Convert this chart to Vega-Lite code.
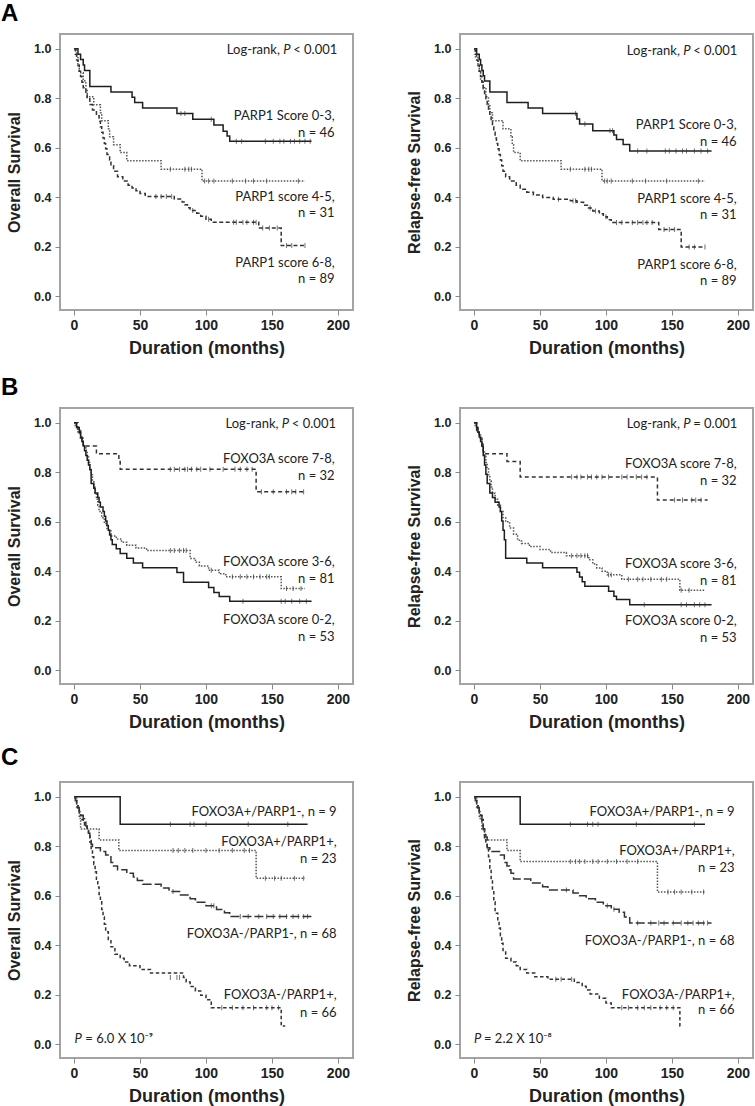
{
"$schema": "https://vega.github.io/schema/vega-lite/v6.json",
"background": "white",
"padding": {"left": 0, "top": 1, "right": 0, "bottom": 0},
"config": {
  "view": {"stroke": "#a3a3a3", "strokeWidth": 2},
  "axis": {"labelFont": "Liberation Sans", "labelFontWeight": "bold", "labelColor": "#222", "titleFont": "Liberation Sans", "titleFontWeight": "bold", "titleColor": "#222", "tickColor": "#888", "tickSize": 5, "domain": false, "grid": false},
  "axisX": {"labelFontSize": 14, "titleFontSize": 18, "labelPadding": 3, "titlePadding": 7},
  "axisY": {"labelFontSize": 12.5, "titleFontSize": 16, "format": ".1f", "labelPadding": 4, "titlePadding": 11},
  "title": {"font": "Liberation Sans", "fontSize": 24, "fontWeight": "bold", "color": "#000", "anchor": "start", "frame": "group", "baseline": "alphabetic", "dx": -59, "offset": 8}
},
"datasets": {
"curves": [
{"p":"A1","g":"P03","t":0,"s":1},{"p":"A1","g":"P03","t":3,"s":0.978},{"p":"A1","g":"P03","t":5,"s":0.957},{"p":"A1","g":"P03","t":7,"s":0.935},{"p":"A1","g":"P03","t":8,"s":0.913},{"p":"A1","g":"P03","t":12,"s":0.848},{"p":"A1","g":"P03","t":28,"s":0.826},{"p":"A1","g":"P03","t":44,"s":0.804},{"p":"A1","g":"P03","t":46,"s":0.783},{"p":"A1","g":"P03","t":52,"s":0.761},{"p":"A1","g":"P03","t":78,"s":0.739},{"p":"A1","g":"P03","t":90,"s":0.716},{"p":"A1","g":"P03","t":106,"s":0.692},{"p":"A1","g":"P03","t":113,"s":0.667},{"p":"A1","g":"P03","t":116,"s":0.648},{"p":"A1","g":"P03","t":118,"s":0.627},{"p":"A1","g":"P03","t":180,"s":0.627},
{"p":"A1","g":"P45","t":0,"s":1},{"p":"A1","g":"P45","t":2,"s":0.968},{"p":"A1","g":"P45","t":3,"s":0.935},{"p":"A1","g":"P45","t":4,"s":0.903},{"p":"A1","g":"P45","t":7,"s":0.871},{"p":"A1","g":"P45","t":9,"s":0.839},{"p":"A1","g":"P45","t":10,"s":0.806},{"p":"A1","g":"P45","t":15,"s":0.774},{"p":"A1","g":"P45","t":20,"s":0.742},{"p":"A1","g":"P45","t":21,"s":0.71},{"p":"A1","g":"P45","t":26,"s":0.677},{"p":"A1","g":"P45","t":27,"s":0.645},{"p":"A1","g":"P45","t":30,"s":0.613},{"p":"A1","g":"P45","t":35,"s":0.581},{"p":"A1","g":"P45","t":40,"s":0.548},{"p":"A1","g":"P45","t":66,"s":0.514},{"p":"A1","g":"P45","t":97,"s":0.466},{"p":"A1","g":"P45","t":175,"s":0.466},
{"p":"A1","g":"P68","t":0,"s":1},{"p":"A1","g":"P68","t":1,"s":0.978},{"p":"A1","g":"P68","t":2,"s":0.955},{"p":"A1","g":"P68","t":3,"s":0.933},{"p":"A1","g":"P68","t":4,"s":0.91},{"p":"A1","g":"P68","t":5,"s":0.888},{"p":"A1","g":"P68","t":6,"s":0.865},{"p":"A1","g":"P68","t":7,"s":0.843},{"p":"A1","g":"P68","t":9,"s":0.82},{"p":"A1","g":"P68","t":10,"s":0.798},{"p":"A1","g":"P68","t":12,"s":0.775},{"p":"A1","g":"P68","t":14,"s":0.753},{"p":"A1","g":"P68","t":17,"s":0.73},{"p":"A1","g":"P68","t":19,"s":0.708},{"p":"A1","g":"P68","t":20,"s":0.685},{"p":"A1","g":"P68","t":21,"s":0.663},{"p":"A1","g":"P68","t":22,"s":0.64},{"p":"A1","g":"P68","t":23,"s":0.618},{"p":"A1","g":"P68","t":24,"s":0.596},{"p":"A1","g":"P68","t":25,"s":0.573},{"p":"A1","g":"P68","t":27,"s":0.551},{"p":"A1","g":"P68","t":28,"s":0.528},{"p":"A1","g":"P68","t":30,"s":0.506},{"p":"A1","g":"P68","t":33,"s":0.483},{"p":"A1","g":"P68","t":37,"s":0.466},{"p":"A1","g":"P68","t":41,"s":0.449},{"p":"A1","g":"P68","t":44,"s":0.438},{"p":"A1","g":"P68","t":47,"s":0.427},{"p":"A1","g":"P68","t":50,"s":0.416},{"p":"A1","g":"P68","t":54,"s":0.404},{"p":"A1","g":"P68","t":76,"s":0.393},{"p":"A1","g":"P68","t":82,"s":0.381},{"p":"A1","g":"P68","t":84,"s":0.37},{"p":"A1","g":"P68","t":86,"s":0.358},{"p":"A1","g":"P68","t":88,"s":0.347},{"p":"A1","g":"P68","t":93,"s":0.336},{"p":"A1","g":"P68","t":96,"s":0.324},{"p":"A1","g":"P68","t":100,"s":0.312},{"p":"A1","g":"P68","t":104,"s":0.3},{"p":"A1","g":"P68","t":140,"s":0.276},{"p":"A1","g":"P68","t":157,"s":0.206},{"p":"A1","g":"P68","t":175,"s":0.206},
{"p":"A2","g":"P03","t":0,"s":1},{"p":"A2","g":"P03","t":2,"s":0.978},{"p":"A2","g":"P03","t":4,"s":0.957},{"p":"A2","g":"P03","t":5,"s":0.935},{"p":"A2","g":"P03","t":6,"s":0.913},{"p":"A2","g":"P03","t":7,"s":0.891},{"p":"A2","g":"P03","t":8,"s":0.87},{"p":"A2","g":"P03","t":12,"s":0.826},{"p":"A2","g":"P03","t":25,"s":0.783},{"p":"A2","g":"P03","t":41,"s":0.761},{"p":"A2","g":"P03","t":52,"s":0.739},{"p":"A2","g":"P03","t":78,"s":0.717},{"p":"A2","g":"P03","t":80,"s":0.696},{"p":"A2","g":"P03","t":90,"s":0.669},{"p":"A2","g":"P03","t":106,"s":0.652},{"p":"A2","g":"P03","t":108,"s":0.634},{"p":"A2","g":"P03","t":113,"s":0.614},{"p":"A2","g":"P03","t":118,"s":0.587},{"p":"A2","g":"P03","t":180,"s":0.587},
{"p":"A2","g":"P45","t":0,"s":1},{"p":"A2","g":"P45","t":1,"s":0.968},{"p":"A2","g":"P45","t":3,"s":0.935},{"p":"A2","g":"P45","t":4,"s":0.903},{"p":"A2","g":"P45","t":5,"s":0.871},{"p":"A2","g":"P45","t":7,"s":0.839},{"p":"A2","g":"P45","t":9,"s":0.806},{"p":"A2","g":"P45","t":11,"s":0.774},{"p":"A2","g":"P45","t":12,"s":0.742},{"p":"A2","g":"P45","t":14,"s":0.71},{"p":"A2","g":"P45","t":22,"s":0.677},{"p":"A2","g":"P45","t":28,"s":0.645},{"p":"A2","g":"P45","t":29,"s":0.613},{"p":"A2","g":"P45","t":30,"s":0.581},{"p":"A2","g":"P45","t":35,"s":0.548},{"p":"A2","g":"P45","t":66,"s":0.514},{"p":"A2","g":"P45","t":97,"s":0.466},{"p":"A2","g":"P45","t":175,"s":0.466},
{"p":"A2","g":"P68","t":0,"s":1},{"p":"A2","g":"P68","t":1,"s":0.978},{"p":"A2","g":"P68","t":2,"s":0.955},{"p":"A2","g":"P68","t":3,"s":0.933},{"p":"A2","g":"P68","t":4,"s":0.91},{"p":"A2","g":"P68","t":5,"s":0.888},{"p":"A2","g":"P68","t":6,"s":0.865},{"p":"A2","g":"P68","t":7,"s":0.843},{"p":"A2","g":"P68","t":8,"s":0.82},{"p":"A2","g":"P68","t":9,"s":0.798},{"p":"A2","g":"P68","t":10,"s":0.775},{"p":"A2","g":"P68","t":11,"s":0.753},{"p":"A2","g":"P68","t":12,"s":0.73},{"p":"A2","g":"P68","t":13,"s":0.708},{"p":"A2","g":"P68","t":14,"s":0.685},{"p":"A2","g":"P68","t":15,"s":0.663},{"p":"A2","g":"P68","t":16,"s":0.64},{"p":"A2","g":"P68","t":17,"s":0.618},{"p":"A2","g":"P68","t":18,"s":0.596},{"p":"A2","g":"P68","t":19,"s":0.573},{"p":"A2","g":"P68","t":20,"s":0.551},{"p":"A2","g":"P68","t":21,"s":0.528},{"p":"A2","g":"P68","t":22,"s":0.506},{"p":"A2","g":"P68","t":24,"s":0.483},{"p":"A2","g":"P68","t":27,"s":0.466},{"p":"A2","g":"P68","t":32,"s":0.449},{"p":"A2","g":"P68","t":35,"s":0.433},{"p":"A2","g":"P68","t":40,"s":0.421},{"p":"A2","g":"P68","t":45,"s":0.41},{"p":"A2","g":"P68","t":52,"s":0.399},{"p":"A2","g":"P68","t":60,"s":0.392},{"p":"A2","g":"P68","t":73,"s":0.386},{"p":"A2","g":"P68","t":78,"s":0.38},{"p":"A2","g":"P68","t":83,"s":0.368},{"p":"A2","g":"P68","t":86,"s":0.357},{"p":"A2","g":"P68","t":90,"s":0.345},{"p":"A2","g":"P68","t":95,"s":0.334},{"p":"A2","g":"P68","t":98,"s":0.322},{"p":"A2","g":"P68","t":101,"s":0.31},{"p":"A2","g":"P68","t":104,"s":0.298},{"p":"A2","g":"P68","t":140,"s":0.27},{"p":"A2","g":"P68","t":157,"s":0.2},{"p":"A2","g":"P68","t":175,"s":0.2},
{"p":"B1","g":"F78","t":0,"s":1},{"p":"B1","g":"F78","t":3,"s":0.969},{"p":"B1","g":"F78","t":5,"s":0.938},{"p":"B1","g":"F78","t":7,"s":0.906},{"p":"B1","g":"F78","t":17,"s":0.875},{"p":"B1","g":"F78","t":34,"s":0.844},{"p":"B1","g":"F78","t":35,"s":0.813},{"p":"B1","g":"F78","t":138,"s":0.722},{"p":"B1","g":"F78","t":176,"s":0.722},
{"p":"B1","g":"F36","t":0,"s":1},{"p":"B1","g":"F36","t":1,"s":0.988},{"p":"B1","g":"F36","t":2,"s":0.975},{"p":"B1","g":"F36","t":3,"s":0.963},{"p":"B1","g":"F36","t":4,"s":0.951},{"p":"B1","g":"F36","t":5,"s":0.938},{"p":"B1","g":"F36","t":6,"s":0.926},{"p":"B1","g":"F36","t":7,"s":0.914},{"p":"B1","g":"F36","t":8,"s":0.901},{"p":"B1","g":"F36","t":9,"s":0.889},{"p":"B1","g":"F36","t":10,"s":0.864},{"p":"B1","g":"F36","t":11,"s":0.84},{"p":"B1","g":"F36","t":12,"s":0.815},{"p":"B1","g":"F36","t":13,"s":0.79},{"p":"B1","g":"F36","t":14,"s":0.765},{"p":"B1","g":"F36","t":15,"s":0.74},{"p":"B1","g":"F36","t":16,"s":0.716},{"p":"B1","g":"F36","t":17,"s":0.691},{"p":"B1","g":"F36","t":18,"s":0.667},{"p":"B1","g":"F36","t":19,"s":0.642},{"p":"B1","g":"F36","t":21,"s":0.617},{"p":"B1","g":"F36","t":23,"s":0.593},{"p":"B1","g":"F36","t":25,"s":0.568},{"p":"B1","g":"F36","t":28,"s":0.543},{"p":"B1","g":"F36","t":32,"s":0.531},{"p":"B1","g":"F36","t":36,"s":0.518},{"p":"B1","g":"F36","t":40,"s":0.506},{"p":"B1","g":"F36","t":47,"s":0.494},{"p":"B1","g":"F36","t":55,"s":0.484},{"p":"B1","g":"F36","t":88,"s":0.452},{"p":"B1","g":"F36","t":92,"s":0.437},{"p":"B1","g":"F36","t":95,"s":0.422},{"p":"B1","g":"F36","t":102,"s":0.405},{"p":"B1","g":"F36","t":110,"s":0.39},{"p":"B1","g":"F36","t":115,"s":0.378},{"p":"B1","g":"F36","t":157,"s":0.331},{"p":"B1","g":"F36","t":175,"s":0.331},
{"p":"B1","g":"F02","t":0,"s":1},{"p":"B1","g":"F02","t":2,"s":0.981},{"p":"B1","g":"F02","t":4,"s":0.962},{"p":"B1","g":"F02","t":5,"s":0.943},{"p":"B1","g":"F02","t":6,"s":0.925},{"p":"B1","g":"F02","t":7,"s":0.906},{"p":"B1","g":"F02","t":8,"s":0.887},{"p":"B1","g":"F02","t":9,"s":0.868},{"p":"B1","g":"F02","t":10,"s":0.849},{"p":"B1","g":"F02","t":11,"s":0.83},{"p":"B1","g":"F02","t":12,"s":0.811},{"p":"B1","g":"F02","t":13,"s":0.755},{"p":"B1","g":"F02","t":15,"s":0.736},{"p":"B1","g":"F02","t":16,"s":0.717},{"p":"B1","g":"F02","t":18,"s":0.698},{"p":"B1","g":"F02","t":19,"s":0.679},{"p":"B1","g":"F02","t":20,"s":0.66},{"p":"B1","g":"F02","t":22,"s":0.642},{"p":"B1","g":"F02","t":23,"s":0.623},{"p":"B1","g":"F02","t":24,"s":0.604},{"p":"B1","g":"F02","t":25,"s":0.585},{"p":"B1","g":"F02","t":26,"s":0.566},{"p":"B1","g":"F02","t":27,"s":0.547},{"p":"B1","g":"F02","t":28,"s":0.528},{"p":"B1","g":"F02","t":29,"s":0.509},{"p":"B1","g":"F02","t":32,"s":0.491},{"p":"B1","g":"F02","t":35,"s":0.472},{"p":"B1","g":"F02","t":40,"s":0.453},{"p":"B1","g":"F02","t":45,"s":0.434},{"p":"B1","g":"F02","t":52,"s":0.415},{"p":"B1","g":"F02","t":78,"s":0.395},{"p":"B1","g":"F02","t":83,"s":0.356},{"p":"B1","g":"F02","t":102,"s":0.335},{"p":"B1","g":"F02","t":106,"s":0.315},{"p":"B1","g":"F02","t":110,"s":0.298},{"p":"B1","g":"F02","t":118,"s":0.279},{"p":"B1","g":"F02","t":180,"s":0.279},
{"p":"B2","g":"F78","t":0,"s":1},{"p":"B2","g":"F78","t":2,"s":0.969},{"p":"B2","g":"F78","t":4,"s":0.938},{"p":"B2","g":"F78","t":6,"s":0.906},{"p":"B2","g":"F78","t":7,"s":0.875},{"p":"B2","g":"F78","t":25,"s":0.844},{"p":"B2","g":"F78","t":35,"s":0.781},{"p":"B2","g":"F78","t":139,"s":0.688},{"p":"B2","g":"F78","t":177,"s":0.688},
{"p":"B2","g":"F36","t":0,"s":1},{"p":"B2","g":"F36","t":1,"s":0.988},{"p":"B2","g":"F36","t":2,"s":0.975},{"p":"B2","g":"F36","t":3,"s":0.963},{"p":"B2","g":"F36","t":4,"s":0.951},{"p":"B2","g":"F36","t":5,"s":0.938},{"p":"B2","g":"F36","t":6,"s":0.914},{"p":"B2","g":"F36","t":7,"s":0.889},{"p":"B2","g":"F36","t":8,"s":0.864},{"p":"B2","g":"F36","t":9,"s":0.84},{"p":"B2","g":"F36","t":10,"s":0.815},{"p":"B2","g":"F36","t":11,"s":0.79},{"p":"B2","g":"F36","t":12,"s":0.765},{"p":"B2","g":"F36","t":13,"s":0.741},{"p":"B2","g":"F36","t":14,"s":0.716},{"p":"B2","g":"F36","t":16,"s":0.691},{"p":"B2","g":"F36","t":18,"s":0.667},{"p":"B2","g":"F36","t":20,"s":0.642},{"p":"B2","g":"F36","t":22,"s":0.617},{"p":"B2","g":"F36","t":24,"s":0.6},{"p":"B2","g":"F36","t":27,"s":0.575},{"p":"B2","g":"F36","t":30,"s":0.55},{"p":"B2","g":"F36","t":33,"s":0.526},{"p":"B2","g":"F36","t":36,"s":0.513},{"p":"B2","g":"F36","t":42,"s":0.5},{"p":"B2","g":"F36","t":50,"s":0.488},{"p":"B2","g":"F36","t":58,"s":0.476},{"p":"B2","g":"F36","t":70,"s":0.463},{"p":"B2","g":"F36","t":87,"s":0.447},{"p":"B2","g":"F36","t":90,"s":0.43},{"p":"B2","g":"F36","t":93,"s":0.414},{"p":"B2","g":"F36","t":97,"s":0.4},{"p":"B2","g":"F36","t":101,"s":0.386},{"p":"B2","g":"F36","t":112,"s":0.368},{"p":"B2","g":"F36","t":156,"s":0.324},{"p":"B2","g":"F36","t":175,"s":0.324},
{"p":"B2","g":"F02","t":0,"s":1},{"p":"B2","g":"F02","t":2,"s":0.981},{"p":"B2","g":"F02","t":3,"s":0.962},{"p":"B2","g":"F02","t":4,"s":0.943},{"p":"B2","g":"F02","t":5,"s":0.925},{"p":"B2","g":"F02","t":6,"s":0.906},{"p":"B2","g":"F02","t":7,"s":0.868},{"p":"B2","g":"F02","t":8,"s":0.83},{"p":"B2","g":"F02","t":9,"s":0.792},{"p":"B2","g":"F02","t":10,"s":0.755},{"p":"B2","g":"F02","t":12,"s":0.717},{"p":"B2","g":"F02","t":14,"s":0.698},{"p":"B2","g":"F02","t":16,"s":0.679},{"p":"B2","g":"F02","t":19,"s":0.66},{"p":"B2","g":"F02","t":20,"s":0.642},{"p":"B2","g":"F02","t":21,"s":0.604},{"p":"B2","g":"F02","t":22,"s":0.566},{"p":"B2","g":"F02","t":23,"s":0.528},{"p":"B2","g":"F02","t":24,"s":0.453},{"p":"B2","g":"F02","t":40,"s":0.434},{"p":"B2","g":"F02","t":52,"s":0.415},{"p":"B2","g":"F02","t":78,"s":0.396},{"p":"B2","g":"F02","t":80,"s":0.377},{"p":"B2","g":"F02","t":82,"s":0.358},{"p":"B2","g":"F02","t":84,"s":0.34},{"p":"B2","g":"F02","t":102,"s":0.32},{"p":"B2","g":"F02","t":106,"s":0.3},{"p":"B2","g":"F02","t":108,"s":0.286},{"p":"B2","g":"F02","t":118,"s":0.265},{"p":"B2","g":"F02","t":180,"s":0.265},
{"p":"C1","g":"FpPm","t":0,"s":1},{"p":"C1","g":"FpPm","t":35,"s":0.889},{"p":"C1","g":"FpPm","t":177,"s":0.889},
{"p":"C1","g":"FpPp","t":0,"s":1},{"p":"C1","g":"FpPp","t":2,"s":0.957},{"p":"C1","g":"FpPp","t":4,"s":0.913},{"p":"C1","g":"FpPp","t":5,"s":0.87},{"p":"C1","g":"FpPp","t":19,"s":0.826},{"p":"C1","g":"FpPp","t":34,"s":0.783},{"p":"C1","g":"FpPp","t":138,"s":0.671},{"p":"C1","g":"FpPp","t":175,"s":0.671},
{"p":"C1","g":"FmPm","t":0,"s":1},{"p":"C1","g":"FmPm","t":1,"s":0.985},{"p":"C1","g":"FmPm","t":2,"s":0.971},{"p":"C1","g":"FmPm","t":3,"s":0.956},{"p":"C1","g":"FmPm","t":4,"s":0.941},{"p":"C1","g":"FmPm","t":5,"s":0.926},{"p":"C1","g":"FmPm","t":7,"s":0.912},{"p":"C1","g":"FmPm","t":8,"s":0.897},{"p":"C1","g":"FmPm","t":9,"s":0.882},{"p":"C1","g":"FmPm","t":10,"s":0.868},{"p":"C1","g":"FmPm","t":11,"s":0.853},{"p":"C1","g":"FmPm","t":12,"s":0.838},{"p":"C1","g":"FmPm","t":13,"s":0.809},{"p":"C1","g":"FmPm","t":14,"s":0.794},{"p":"C1","g":"FmPm","t":20,"s":0.779},{"p":"C1","g":"FmPm","t":24,"s":0.765},{"p":"C1","g":"FmPm","t":28,"s":0.735},{"p":"C1","g":"FmPm","t":30,"s":0.721},{"p":"C1","g":"FmPm","t":33,"s":0.706},{"p":"C1","g":"FmPm","t":40,"s":0.691},{"p":"C1","g":"FmPm","t":45,"s":0.676},{"p":"C1","g":"FmPm","t":48,"s":0.662},{"p":"C1","g":"FmPm","t":52,"s":0.647},{"p":"C1","g":"FmPm","t":66,"s":0.632},{"p":"C1","g":"FmPm","t":72,"s":0.618},{"p":"C1","g":"FmPm","t":80,"s":0.603},{"p":"C1","g":"FmPm","t":88,"s":0.588},{"p":"C1","g":"FmPm","t":92,"s":0.574},{"p":"C1","g":"FmPm","t":100,"s":0.56},{"p":"C1","g":"FmPm","t":108,"s":0.545},{"p":"C1","g":"FmPm","t":114,"s":0.532},{"p":"C1","g":"FmPm","t":118,"s":0.517},{"p":"C1","g":"FmPm","t":181,"s":0.517},
{"p":"C1","g":"FmPp","t":0,"s":1},{"p":"C1","g":"FmPp","t":1,"s":0.985},{"p":"C1","g":"FmPp","t":2,"s":0.97},{"p":"C1","g":"FmPp","t":3,"s":0.955},{"p":"C1","g":"FmPp","t":4,"s":0.939},{"p":"C1","g":"FmPp","t":5,"s":0.924},{"p":"C1","g":"FmPp","t":6,"s":0.909},{"p":"C1","g":"FmPp","t":7,"s":0.894},{"p":"C1","g":"FmPp","t":8,"s":0.879},{"p":"C1","g":"FmPp","t":10,"s":0.864},{"p":"C1","g":"FmPp","t":11,"s":0.848},{"p":"C1","g":"FmPp","t":12,"s":0.818},{"p":"C1","g":"FmPp","t":13,"s":0.788},{"p":"C1","g":"FmPp","t":14,"s":0.758},{"p":"C1","g":"FmPp","t":15,"s":0.727},{"p":"C1","g":"FmPp","t":16,"s":0.697},{"p":"C1","g":"FmPp","t":17,"s":0.667},{"p":"C1","g":"FmPp","t":18,"s":0.636},{"p":"C1","g":"FmPp","t":19,"s":0.606},{"p":"C1","g":"FmPp","t":20,"s":0.576},{"p":"C1","g":"FmPp","t":21,"s":0.545},{"p":"C1","g":"FmPp","t":22,"s":0.515},{"p":"C1","g":"FmPp","t":23,"s":0.485},{"p":"C1","g":"FmPp","t":24,"s":0.455},{"p":"C1","g":"FmPp","t":26,"s":0.424},{"p":"C1","g":"FmPp","t":28,"s":0.394},{"p":"C1","g":"FmPp","t":31,"s":0.364},{"p":"C1","g":"FmPp","t":35,"s":0.348},{"p":"C1","g":"FmPp","t":38,"s":0.333},{"p":"C1","g":"FmPp","t":42,"s":0.318},{"p":"C1","g":"FmPp","t":50,"s":0.303},{"p":"C1","g":"FmPp","t":58,"s":0.288},{"p":"C1","g":"FmPp","t":83,"s":0.27},{"p":"C1","g":"FmPp","t":85,"s":0.252},{"p":"C1","g":"FmPp","t":88,"s":0.234},{"p":"C1","g":"FmPp","t":92,"s":0.216},{"p":"C1","g":"FmPp","t":96,"s":0.198},{"p":"C1","g":"FmPp","t":100,"s":0.18},{"p":"C1","g":"FmPp","t":104,"s":0.148},{"p":"C1","g":"FmPp","t":157,"s":0.074},{"p":"C1","g":"FmPp","t":160,"s":0.074},
{"p":"C2","g":"FpPm","t":0,"s":1},{"p":"C2","g":"FpPm","t":35,"s":0.889},{"p":"C2","g":"FpPm","t":175,"s":0.889},
{"p":"C2","g":"FpPp","t":0,"s":1},{"p":"C2","g":"FpPp","t":2,"s":0.957},{"p":"C2","g":"FpPp","t":4,"s":0.913},{"p":"C2","g":"FpPp","t":6,"s":0.87},{"p":"C2","g":"FpPp","t":8,"s":0.826},{"p":"C2","g":"FpPp","t":25,"s":0.783},{"p":"C2","g":"FpPp","t":35,"s":0.739},{"p":"C2","g":"FpPp","t":139,"s":0.616},{"p":"C2","g":"FpPp","t":175,"s":0.616},
{"p":"C2","g":"FmPm","t":0,"s":1},{"p":"C2","g":"FmPm","t":1,"s":0.985},{"p":"C2","g":"FmPm","t":2,"s":0.971},{"p":"C2","g":"FmPm","t":3,"s":0.956},{"p":"C2","g":"FmPm","t":4,"s":0.941},{"p":"C2","g":"FmPm","t":5,"s":0.926},{"p":"C2","g":"FmPm","t":6,"s":0.897},{"p":"C2","g":"FmPm","t":7,"s":0.868},{"p":"C2","g":"FmPm","t":8,"s":0.838},{"p":"C2","g":"FmPm","t":10,"s":0.794},{"p":"C2","g":"FmPm","t":12,"s":0.779},{"p":"C2","g":"FmPm","t":20,"s":0.765},{"p":"C2","g":"FmPm","t":23,"s":0.735},{"p":"C2","g":"FmPm","t":25,"s":0.721},{"p":"C2","g":"FmPm","t":27,"s":0.706},{"p":"C2","g":"FmPm","t":28,"s":0.691},{"p":"C2","g":"FmPm","t":30,"s":0.668},{"p":"C2","g":"FmPm","t":43,"s":0.652},{"p":"C2","g":"FmPm","t":52,"s":0.637},{"p":"C2","g":"FmPm","t":56,"s":0.624},{"p":"C2","g":"FmPm","t":75,"s":0.612},{"p":"C2","g":"FmPm","t":80,"s":0.6},{"p":"C2","g":"FmPm","t":85,"s":0.588},{"p":"C2","g":"FmPm","t":92,"s":0.574},{"p":"C2","g":"FmPm","t":98,"s":0.56},{"p":"C2","g":"FmPm","t":104,"s":0.546},{"p":"C2","g":"FmPm","t":110,"s":0.534},{"p":"C2","g":"FmPm","t":114,"s":0.515},{"p":"C2","g":"FmPm","t":118,"s":0.49},{"p":"C2","g":"FmPm","t":180,"s":0.49},
{"p":"C2","g":"FmPp","t":0,"s":1},{"p":"C2","g":"FmPp","t":1,"s":0.985},{"p":"C2","g":"FmPp","t":2,"s":0.97},{"p":"C2","g":"FmPp","t":3,"s":0.955},{"p":"C2","g":"FmPp","t":4,"s":0.939},{"p":"C2","g":"FmPp","t":5,"s":0.924},{"p":"C2","g":"FmPp","t":6,"s":0.909},{"p":"C2","g":"FmPp","t":7,"s":0.879},{"p":"C2","g":"FmPp","t":8,"s":0.848},{"p":"C2","g":"FmPp","t":9,"s":0.818},{"p":"C2","g":"FmPp","t":10,"s":0.788},{"p":"C2","g":"FmPp","t":11,"s":0.758},{"p":"C2","g":"FmPp","t":12,"s":0.712},{"p":"C2","g":"FmPp","t":13,"s":0.667},{"p":"C2","g":"FmPp","t":14,"s":0.621},{"p":"C2","g":"FmPp","t":15,"s":0.576},{"p":"C2","g":"FmPp","t":16,"s":0.53},{"p":"C2","g":"FmPp","t":18,"s":0.5},{"p":"C2","g":"FmPp","t":19,"s":0.47},{"p":"C2","g":"FmPp","t":20,"s":0.439},{"p":"C2","g":"FmPp","t":21,"s":0.409},{"p":"C2","g":"FmPp","t":22,"s":0.379},{"p":"C2","g":"FmPp","t":24,"s":0.348},{"p":"C2","g":"FmPp","t":28,"s":0.333},{"p":"C2","g":"FmPp","t":32,"s":0.318},{"p":"C2","g":"FmPp","t":35,"s":0.303},{"p":"C2","g":"FmPp","t":40,"s":0.288},{"p":"C2","g":"FmPp","t":46,"s":0.273},{"p":"C2","g":"FmPp","t":56,"s":0.263},{"p":"C2","g":"FmPp","t":76,"s":0.25},{"p":"C2","g":"FmPp","t":82,"s":0.235},{"p":"C2","g":"FmPp","t":85,"s":0.22},{"p":"C2","g":"FmPp","t":88,"s":0.204},{"p":"C2","g":"FmPp","t":95,"s":0.186},{"p":"C2","g":"FmPp","t":100,"s":0.167},{"p":"C2","g":"FmPp","t":104,"s":0.148},{"p":"C2","g":"FmPp","t":156,"s":0.074},{"p":"C2","g":"FmPp","t":158,"s":0.074}
],
"censors": [
{"p":"A1","t":81,"s":0.739},{"p":"A1","t":84,"s":0.739},{"p":"A1","t":104,"s":0.716},{"p":"A1","t":123,"s":0.627},{"p":"A1","t":127,"s":0.627},{"p":"A1","t":145,"s":0.627},{"p":"A1","t":151,"s":0.627},{"p":"A1","t":156,"s":0.627},{"p":"A1","t":159,"s":0.627},{"p":"A1","t":164,"s":0.627},{"p":"A1","t":167,"s":0.627},{"p":"A1","t":171,"s":0.627},{"p":"A1","t":175,"s":0.627},{"p":"A1","t":179,"s":0.627},
{"p":"A1","t":73,"s":0.514},{"p":"A1","t":84,"s":0.514},{"p":"A1","t":87,"s":0.514},{"p":"A1","t":89,"s":0.514},{"p":"A1","t":99,"s":0.466},{"p":"A1","t":102,"s":0.466},{"p":"A1","t":106,"s":0.466},{"p":"A1","t":120,"s":0.466},{"p":"A1","t":130,"s":0.466},{"p":"A1","t":136,"s":0.466},{"p":"A1","t":146,"s":0.466},{"p":"A1","t":170,"s":0.466},
{"p":"A1","t":62,"s":0.404},{"p":"A1","t":66,"s":0.404},{"p":"A1","t":70,"s":0.404},{"p":"A1","t":74,"s":0.404},{"p":"A1","t":90,"s":0.347},{"p":"A1","t":102,"s":0.312},{"p":"A1","t":121,"s":0.3},{"p":"A1","t":123,"s":0.3},{"p":"A1","t":128,"s":0.3},{"p":"A1","t":131,"s":0.3},{"p":"A1","t":136,"s":0.3},{"p":"A1","t":138,"s":0.3},{"p":"A1","t":143,"s":0.276},{"p":"A1","t":148,"s":0.276},{"p":"A1","t":154,"s":0.276},{"p":"A1","t":161,"s":0.206},{"p":"A1","t":165,"s":0.206},{"p":"A1","t":175,"s":0.206},
{"p":"A2","t":77,"s":0.739},{"p":"A2","t":84,"s":0.696},{"p":"A2","t":103,"s":0.669},{"p":"A2","t":105,"s":0.669},{"p":"A2","t":124,"s":0.587},{"p":"A2","t":131,"s":0.587},{"p":"A2","t":145,"s":0.587},{"p":"A2","t":148,"s":0.587},{"p":"A2","t":153,"s":0.587},{"p":"A2","t":158,"s":0.587},{"p":"A2","t":161,"s":0.587},{"p":"A2","t":167,"s":0.587},{"p":"A2","t":172,"s":0.587},{"p":"A2","t":177,"s":0.587},
{"p":"A2","t":73,"s":0.514},{"p":"A2","t":84,"s":0.514},{"p":"A2","t":87,"s":0.514},{"p":"A2","t":89,"s":0.514},{"p":"A2","t":99,"s":0.466},{"p":"A2","t":101,"s":0.466},{"p":"A2","t":104,"s":0.466},{"p":"A2","t":120,"s":0.466},{"p":"A2","t":130,"s":0.466},{"p":"A2","t":146,"s":0.466},{"p":"A2","t":170,"s":0.466},
{"p":"A2","t":64,"s":0.392},{"p":"A2","t":75,"s":0.386},{"p":"A2","t":77,"s":0.386},{"p":"A2","t":88,"s":0.357},{"p":"A2","t":92,"s":0.345},{"p":"A2","t":100,"s":0.322},{"p":"A2","t":108,"s":0.298},{"p":"A2","t":112,"s":0.298},{"p":"A2","t":120,"s":0.298},{"p":"A2","t":124,"s":0.298},{"p":"A2","t":128,"s":0.298},{"p":"A2","t":131,"s":0.298},{"p":"A2","t":135,"s":0.298},{"p":"A2","t":144,"s":0.27},{"p":"A2","t":148,"s":0.27},{"p":"A2","t":152,"s":0.27},{"p":"A2","t":163,"s":0.2},{"p":"A2","t":167,"s":0.2},{"p":"A2","t":175,"s":0.2},
{"p":"B1","t":73,"s":0.813},{"p":"B1","t":76,"s":0.813},{"p":"B1","t":80,"s":0.813},{"p":"B1","t":84,"s":0.813},{"p":"B1","t":86,"s":0.813},{"p":"B1","t":89,"s":0.813},{"p":"B1","t":93,"s":0.813},{"p":"B1","t":96,"s":0.813},{"p":"B1","t":103,"s":0.813},{"p":"B1","t":113,"s":0.813},{"p":"B1","t":122,"s":0.813},{"p":"B1","t":126,"s":0.813},{"p":"B1","t":131,"s":0.813},{"p":"B1","t":135,"s":0.813},{"p":"B1","t":142,"s":0.722},{"p":"B1","t":151,"s":0.722},{"p":"B1","t":161,"s":0.722},{"p":"B1","t":165,"s":0.722},{"p":"B1","t":168,"s":0.722},{"p":"B1","t":174,"s":0.722},
{"p":"B1","t":73,"s":0.484},{"p":"B1","t":76,"s":0.484},{"p":"B1","t":80,"s":0.484},{"p":"B1","t":83,"s":0.484},{"p":"B1","t":85,"s":0.484},{"p":"B1","t":104,"s":0.405},{"p":"B1","t":120,"s":0.378},{"p":"B1","t":126,"s":0.378},{"p":"B1","t":131,"s":0.378},{"p":"B1","t":136,"s":0.378},{"p":"B1","t":141,"s":0.378},{"p":"B1","t":146,"s":0.378},{"p":"B1","t":148,"s":0.378},{"p":"B1","t":161,"s":0.331},{"p":"B1","t":166,"s":0.331},{"p":"B1","t":172,"s":0.331},
{"p":"B1","t":128,"s":0.279},{"p":"B1","t":157,"s":0.279},{"p":"B1","t":160,"s":0.279},{"p":"B1","t":165,"s":0.279},{"p":"B1","t":171,"s":0.279},{"p":"B1","t":176,"s":0.279},
{"p":"B2","t":74,"s":0.781},{"p":"B2","t":78,"s":0.781},{"p":"B2","t":81,"s":0.781},{"p":"B2","t":86,"s":0.781},{"p":"B2","t":89,"s":0.781},{"p":"B2","t":93,"s":0.781},{"p":"B2","t":97,"s":0.781},{"p":"B2","t":102,"s":0.781},{"p":"B2","t":112,"s":0.781},{"p":"B2","t":116,"s":0.781},{"p":"B2","t":123,"s":0.781},{"p":"B2","t":127,"s":0.781},{"p":"B2","t":131,"s":0.781},{"p":"B2","t":152,"s":0.688},{"p":"B2","t":158,"s":0.688},{"p":"B2","t":165,"s":0.688},{"p":"B2","t":168,"s":0.688},{"p":"B2","t":172,"s":0.688},
{"p":"B2","t":74,"s":0.463},{"p":"B2","t":78,"s":0.463},{"p":"B2","t":81,"s":0.463},{"p":"B2","t":84,"s":0.463},{"p":"B2","t":86,"s":0.463},{"p":"B2","t":102,"s":0.386},{"p":"B2","t":104,"s":0.386},{"p":"B2","t":117,"s":0.368},{"p":"B2","t":124,"s":0.368},{"p":"B2","t":128,"s":0.368},{"p":"B2","t":134,"s":0.368},{"p":"B2","t":142,"s":0.368},{"p":"B2","t":146,"s":0.368},{"p":"B2","t":157,"s":0.324},{"p":"B2","t":163,"s":0.324},
{"p":"B2","t":129,"s":0.265},{"p":"B2","t":157,"s":0.265},{"p":"B2","t":161,"s":0.265},{"p":"B2","t":167,"s":0.265},{"p":"B2","t":171,"s":0.265},{"p":"B2","t":175,"s":0.265},
{"p":"C1","t":73,"s":0.889},{"p":"C1","t":88,"s":0.889},{"p":"C1","t":91,"s":0.889},{"p":"C1","t":100,"s":0.889},{"p":"C1","t":132,"s":0.889},{"p":"C1","t":162,"s":0.889},
{"p":"C1","t":75,"s":0.783},{"p":"C1","t":79,"s":0.783},{"p":"C1","t":84,"s":0.783},{"p":"C1","t":90,"s":0.783},{"p":"C1","t":100,"s":0.783},{"p":"C1","t":110,"s":0.783},{"p":"C1","t":120,"s":0.783},{"p":"C1","t":129,"s":0.783},{"p":"C1","t":133,"s":0.783},{"p":"C1","t":145,"s":0.671},{"p":"C1","t":152,"s":0.671},{"p":"C1","t":157,"s":0.671},{"p":"C1","t":167,"s":0.671},{"p":"C1","t":174,"s":0.671},
{"p":"C1","t":75,"s":0.618},{"p":"C1","t":104,"s":0.56},{"p":"C1","t":106,"s":0.56},{"p":"C1","t":126,"s":0.517},{"p":"C1","t":132,"s":0.517},{"p":"C1","t":140,"s":0.517},{"p":"C1","t":146,"s":0.517},{"p":"C1","t":151,"s":0.517},{"p":"C1","t":156,"s":0.517},{"p":"C1","t":161,"s":0.517},{"p":"C1","t":166,"s":0.517},{"p":"C1","t":170,"s":0.517},{"p":"C1","t":174,"s":0.517},{"p":"C1","t":177,"s":0.517},
{"p":"C1","t":73,"s":0.27},{"p":"C1","t":78,"s":0.27},{"p":"C1","t":80,"s":0.27},{"p":"C1","t":112,"s":0.148},{"p":"C1","t":120,"s":0.148},{"p":"C1","t":128,"s":0.148},{"p":"C1","t":136,"s":0.148},{"p":"C1","t":146,"s":0.148},{"p":"C1","t":150,"s":0.148},{"p":"C1","t":155,"s":0.148},
{"p":"C2","t":73,"s":0.889},{"p":"C2","t":86,"s":0.889},{"p":"C2","t":90,"s":0.889},{"p":"C2","t":94,"s":0.889},{"p":"C2","t":123,"s":0.889},{"p":"C2","t":167,"s":0.889},
{"p":"C2","t":73,"s":0.739},{"p":"C2","t":77,"s":0.739},{"p":"C2","t":80,"s":0.739},{"p":"C2","t":84,"s":0.739},{"p":"C2","t":90,"s":0.739},{"p":"C2","t":94,"s":0.739},{"p":"C2","t":101,"s":0.739},{"p":"C2","t":108,"s":0.739},{"p":"C2","t":116,"s":0.739},{"p":"C2","t":124,"s":0.739},{"p":"C2","t":147,"s":0.616},{"p":"C2","t":152,"s":0.616},{"p":"C2","t":157,"s":0.616},{"p":"C2","t":165,"s":0.616},{"p":"C2","t":174,"s":0.616},
{"p":"C2","t":70,"s":0.624},{"p":"C2","t":101,"s":0.56},{"p":"C2","t":106,"s":0.546},{"p":"C2","t":124,"s":0.49},{"p":"C2","t":134,"s":0.49},{"p":"C2","t":140,"s":0.49},{"p":"C2","t":144,"s":0.49},{"p":"C2","t":151,"s":0.49},{"p":"C2","t":157,"s":0.49},{"p":"C2","t":162,"s":0.49},{"p":"C2","t":166,"s":0.49},{"p":"C2","t":170,"s":0.49},{"p":"C2","t":174,"s":0.49},{"p":"C2","t":177,"s":0.49},
{"p":"C2","t":62,"s":0.263},{"p":"C2","t":66,"s":0.263},{"p":"C2","t":74,"s":0.263},{"p":"C2","t":112,"s":0.148},{"p":"C2","t":117,"s":0.148},{"p":"C2","t":124,"s":0.148},{"p":"C2","t":129,"s":0.148},{"p":"C2","t":134,"s":0.148},{"p":"C2","t":141,"s":0.148},{"p":"C2","t":146,"s":0.148},{"p":"C2","t":151,"s":0.148}
],
"notes": [
{"p":"A1","t":156,"s":0.994,"text":"Log-rank,"},{"p":"A1","t":199.5,"s":0.994,"text":"< 0.001"},
{"p":"A1","t":197.5,"s":0.728,"text":"PARP1 Score 0-3,"},{"p":"A1","t":197.5,"s":0.66,"text":"n = 46"},
{"p":"A1","t":197.5,"s":0.4,"text":"PARP1 score 4-5,"},{"p":"A1","t":197.5,"s":0.337,"text":"n = 31"},
{"p":"A1","t":197.5,"s":0.135,"text":"PARP1 score 6-8,"},{"p":"A1","t":197.5,"s":0.072,"text":"n = 89"},
{"p":"A2","t":156,"s":0.993,"text":"Log-rank,"},{"p":"A2","t":199.5,"s":0.993,"text":"< 0.001"},
{"p":"A2","t":199,"s":0.691,"text":"PARP1 Score 0-3,"},{"p":"A2","t":199,"s":0.624,"text":"n = 46"},
{"p":"A2","t":199,"s":0.394,"text":"PARP1 score 4-5,"},{"p":"A2","t":199,"s":0.33,"text":"n = 31"},
{"p":"A2","t":199,"s":0.128,"text":"PARP1 score 6-8,"},{"p":"A2","t":199,"s":0.063,"text":"n = 89"},
{"p":"B1","t":155,"s":0.996,"text":"Log-rank,"},{"p":"B1","t":198.5,"s":0.996,"text":"< 0.001"},
{"p":"B1","t":197.5,"s":0.853,"text":"FOXO3A score 7-8,"},{"p":"B1","t":197.5,"s":0.786,"text":"n = 32"},
{"p":"B1","t":197.5,"s":0.436,"text":"FOXO3A score 3-6,"},{"p":"B1","t":197.5,"s":0.37,"text":"n = 81"},
{"p":"B1","t":197.5,"s":0.205,"text":"FOXO3A score 0-2,"},{"p":"B1","t":197.5,"s":0.135,"text":"n = 53"},
{"p":"B2","t":156,"s":0.996,"text":"Log-rank,"},{"p":"B2","t":199.5,"s":0.996,"text":"= 0.001"},
{"p":"B2","t":199,"s":0.835,"text":"FOXO3A score 7-8,"},{"p":"B2","t":199,"s":0.765,"text":"n = 32"},
{"p":"B2","t":199,"s":0.429,"text":"FOXO3A score 3-6,"},{"p":"B2","t":199,"s":0.362,"text":"n = 81"},
{"p":"B2","t":199,"s":0.198,"text":"FOXO3A score 0-2,"},{"p":"B2","t":199,"s":0.131,"text":"n = 53"},
{"p":"C1","t":199,"s":0.94,"text":"FOXO3A+/PARP1-,  n = 9"},
{"p":"C1","t":199,"s":0.819,"text":"FOXO3A+/PARP1+,"},{"p":"C1","t":199,"s":0.749,"text":"n = 23"},
{"p":"C1","t":199,"s":0.447,"text":"FOXO3A-/PARP1-,  n = 68"},
{"p":"C1","t":199,"s":0.199,"text":"FOXO3A-/PARP1+,"},{"p":"C1","t":199,"s":0.128,"text":"n = 66"},
{"p":"C1","t":60,"s":0.02,"text":"= 6.0 X 10⁻⁹"},
{"p":"C2","t":197.5,"s":0.94,"text":"FOXO3A+/PARP1-,  n = 9"},
{"p":"C2","t":197.5,"s":0.781,"text":"FOXO3A+/PARP1+,"},{"p":"C2","t":197.5,"s":0.711,"text":"n = 23"},
{"p":"C2","t":197.5,"s":0.416,"text":"FOXO3A-/PARP1-,  n = 68"},
{"p":"C2","t":197.5,"s":0.201,"text":"FOXO3A-/PARP1+,"},{"p":"C2","t":197.5,"s":0.137,"text":"n = 66"},
{"p":"C2","t":59,"s":0.02,"text":"= 2.2 X 10⁻⁸"}
],
"pnotes": [
{"p":"A1","t":164,"s":0.994,"text":"P"},{"p":"A2","t":164,"s":0.993,"text":"P"},{"p":"B1","t":163,"s":0.996,"text":"P"},{"p":"B2","t":164,"s":0.996,"text":"P"},
{"p":"C1","t":6,"s":0.02,"text":"P"},{"p":"C2","t":5.5,"s":0.02,"text":"P"}
]
},
"columns": 2,
"bounds": "flush",
"spacing": {"row": 98, "column": 107},
"concat": [
 {"title": "A", "width": 293, "height": 276,
  "encoding": {"x": {"field": "t", "type": "quantitative", "scale": {"domain": [-10.6, 211.4], "nice": false, "zero": false}, "axis": {"title": "Duration (months)", "values": [0, 50, 100, 150, 200]}}, "y": {"field": "s", "type": "quantitative", "scale": {"domain": [-0.055, 1.06], "nice": false, "zero": false}, "axis": {"title": "Overall Survival", "values": [0, 0.2, 0.4, 0.6, 0.8, 1]}}},
  "layer": [
   {"data": {"name": "curves"}, "transform": [{"filter": "datum.p == 'A1'"}], "mark": {"type": "line", "interpolate": "step-after"}, "encoding": {"detail": {"field": "g"}, "strokeDash": {"field": "g", "scale": {"domain": ["P03","P45","P68","F78","F36","F02","FpPm","FpPp","FmPm","FmPp"], "range": [[1,0],[1.5,1.5],[4,2.5],[4,3],[1.5,1.5],[1,0],[1,0],[1.5,1.5],[9,3],[3.5,2.5]]}, "legend": null}, "color": {"field": "g", "scale": {"domain": ["P03","P45","P68","F78","F36","F02","FpPm","FpPp","FmPm","FmPp"], "range": ["#1e1e1e","#555555","#333333","#333333","#555555","#1e1e1e","#1e1e1e","#555555","#333333","#333333"]}, "legend": null}, "strokeWidth": {"field": "g", "scale": {"domain": ["P03","P45","P68","F78","F36","F02","FpPm","FpPp","FmPm","FmPp"], "range": [1.5,1.5,1.7,1.5,1.5,1.5,1.5,1.5,1.5,2]}, "legend": null}}},
   {"data": {"name": "censors"}, "transform": [{"filter": "datum.p == 'A1'"}], "mark": {"type": "tick", "orient": "vertical", "size": 5, "thickness": 1, "color": "#333"}},
   {"data": {"name": "notes"}, "transform": [{"filter": "datum.p == 'A1'"}], "mark": {"type": "text", "align": "right", "baseline": "middle", "font": "Lato", "fontSize": 13, "color": "#222"}, "encoding": {"text": {"field": "text"}}},
   {"data": {"name": "pnotes"}, "transform": [{"filter": "datum.p == 'A1'"}], "mark": {"type": "text", "align": "right", "baseline": "middle", "font": "Lato", "fontSize": 13, "fontStyle": "italic", "color": "#222"}, "encoding": {"text": {"field": "text"}}}
  ]},
 {"width": 293, "height": 276,
  "encoding": {"x": {"field": "t", "type": "quantitative", "scale": {"domain": [-10.6, 211.4], "nice": false, "zero": false}, "axis": {"title": "Duration (months)", "values": [0, 50, 100, 150, 200]}}, "y": {"field": "s", "type": "quantitative", "scale": {"domain": [-0.055, 1.06], "nice": false, "zero": false}, "axis": {"title": "Relapse-free Survival", "values": [0, 0.2, 0.4, 0.6, 0.8, 1]}}},
  "layer": [
   {"data": {"name": "curves"}, "transform": [{"filter": "datum.p == 'A2'"}], "mark": {"type": "line", "interpolate": "step-after"}, "encoding": {"detail": {"field": "g"}, "strokeDash": {"field": "g", "scale": {"domain": ["P03","P45","P68","F78","F36","F02","FpPm","FpPp","FmPm","FmPp"], "range": [[1,0],[1.5,1.5],[4,2.5],[4,3],[1.5,1.5],[1,0],[1,0],[1.5,1.5],[9,3],[3.5,2.5]]}, "legend": null}, "color": {"field": "g", "scale": {"domain": ["P03","P45","P68","F78","F36","F02","FpPm","FpPp","FmPm","FmPp"], "range": ["#1e1e1e","#555555","#333333","#333333","#555555","#1e1e1e","#1e1e1e","#555555","#333333","#333333"]}, "legend": null}, "strokeWidth": {"field": "g", "scale": {"domain": ["P03","P45","P68","F78","F36","F02","FpPm","FpPp","FmPm","FmPp"], "range": [1.5,1.5,1.7,1.5,1.5,1.5,1.5,1.5,1.5,2]}, "legend": null}}},
   {"data": {"name": "censors"}, "transform": [{"filter": "datum.p == 'A2'"}], "mark": {"type": "tick", "orient": "vertical", "size": 5, "thickness": 1, "color": "#333"}},
   {"data": {"name": "notes"}, "transform": [{"filter": "datum.p == 'A2'"}], "mark": {"type": "text", "align": "right", "baseline": "middle", "font": "Lato", "fontSize": 13, "color": "#222"}, "encoding": {"text": {"field": "text"}}},
   {"data": {"name": "pnotes"}, "transform": [{"filter": "datum.p == 'A2'"}], "mark": {"type": "text", "align": "right", "baseline": "middle", "font": "Lato", "fontSize": 13, "fontStyle": "italic", "color": "#222"}, "encoding": {"text": {"field": "text"}}}
  ]},
 {"title": "B", "width": 293, "height": 276,
  "encoding": {"x": {"field": "t", "type": "quantitative", "scale": {"domain": [-10.6, 211.4], "nice": false, "zero": false}, "axis": {"title": "Duration (months)", "values": [0, 50, 100, 150, 200]}}, "y": {"field": "s", "type": "quantitative", "scale": {"domain": [-0.055, 1.06], "nice": false, "zero": false}, "axis": {"title": "Overall Survival", "values": [0, 0.2, 0.4, 0.6, 0.8, 1]}}},
  "layer": [
   {"data": {"name": "curves"}, "transform": [{"filter": "datum.p == 'B1'"}], "mark": {"type": "line", "interpolate": "step-after"}, "encoding": {"detail": {"field": "g"}, "strokeDash": {"field": "g", "scale": {"domain": ["P03","P45","P68","F78","F36","F02","FpPm","FpPp","FmPm","FmPp"], "range": [[1,0],[1.5,1.5],[4,2.5],[4,3],[1.5,1.5],[1,0],[1,0],[1.5,1.5],[9,3],[3.5,2.5]]}, "legend": null}, "color": {"field": "g", "scale": {"domain": ["P03","P45","P68","F78","F36","F02","FpPm","FpPp","FmPm","FmPp"], "range": ["#1e1e1e","#555555","#333333","#333333","#555555","#1e1e1e","#1e1e1e","#555555","#333333","#333333"]}, "legend": null}, "strokeWidth": {"field": "g", "scale": {"domain": ["P03","P45","P68","F78","F36","F02","FpPm","FpPp","FmPm","FmPp"], "range": [1.5,1.5,1.7,1.5,1.5,1.5,1.5,1.5,1.5,2]}, "legend": null}}},
   {"data": {"name": "censors"}, "transform": [{"filter": "datum.p == 'B1'"}], "mark": {"type": "tick", "orient": "vertical", "size": 5, "thickness": 1, "color": "#333"}},
   {"data": {"name": "notes"}, "transform": [{"filter": "datum.p == 'B1'"}], "mark": {"type": "text", "align": "right", "baseline": "middle", "font": "Lato", "fontSize": 13, "color": "#222"}, "encoding": {"text": {"field": "text"}}},
   {"data": {"name": "pnotes"}, "transform": [{"filter": "datum.p == 'B1'"}], "mark": {"type": "text", "align": "right", "baseline": "middle", "font": "Lato", "fontSize": 13, "fontStyle": "italic", "color": "#222"}, "encoding": {"text": {"field": "text"}}}
  ]},
 {"width": 293, "height": 276,
  "encoding": {"x": {"field": "t", "type": "quantitative", "scale": {"domain": [-10.6, 211.4], "nice": false, "zero": false}, "axis": {"title": "Duration (months)", "values": [0, 50, 100, 150, 200]}}, "y": {"field": "s", "type": "quantitative", "scale": {"domain": [-0.055, 1.06], "nice": false, "zero": false}, "axis": {"title": "Relapse-free Survival", "values": [0, 0.2, 0.4, 0.6, 0.8, 1]}}},
  "layer": [
   {"data": {"name": "curves"}, "transform": [{"filter": "datum.p == 'B2'"}], "mark": {"type": "line", "interpolate": "step-after"}, "encoding": {"detail": {"field": "g"}, "strokeDash": {"field": "g", "scale": {"domain": ["P03","P45","P68","F78","F36","F02","FpPm","FpPp","FmPm","FmPp"], "range": [[1,0],[1.5,1.5],[4,2.5],[4,3],[1.5,1.5],[1,0],[1,0],[1.5,1.5],[9,3],[3.5,2.5]]}, "legend": null}, "color": {"field": "g", "scale": {"domain": ["P03","P45","P68","F78","F36","F02","FpPm","FpPp","FmPm","FmPp"], "range": ["#1e1e1e","#555555","#333333","#333333","#555555","#1e1e1e","#1e1e1e","#555555","#333333","#333333"]}, "legend": null}, "strokeWidth": {"field": "g", "scale": {"domain": ["P03","P45","P68","F78","F36","F02","FpPm","FpPp","FmPm","FmPp"], "range": [1.5,1.5,1.7,1.5,1.5,1.5,1.5,1.5,1.5,2]}, "legend": null}}},
   {"data": {"name": "censors"}, "transform": [{"filter": "datum.p == 'B2'"}], "mark": {"type": "tick", "orient": "vertical", "size": 5, "thickness": 1, "color": "#333"}},
   {"data": {"name": "notes"}, "transform": [{"filter": "datum.p == 'B2'"}], "mark": {"type": "text", "align": "right", "baseline": "middle", "font": "Lato", "fontSize": 13, "color": "#222"}, "encoding": {"text": {"field": "text"}}},
   {"data": {"name": "pnotes"}, "transform": [{"filter": "datum.p == 'B2'"}], "mark": {"type": "text", "align": "right", "baseline": "middle", "font": "Lato", "fontSize": 13, "fontStyle": "italic", "color": "#222"}, "encoding": {"text": {"field": "text"}}}
  ]},
 {"title": {"text": "C", "offset": 12}, "width": 293, "height": 276,
  "encoding": {"x": {"field": "t", "type": "quantitative", "scale": {"domain": [-10.6, 211.4], "nice": false, "zero": false}, "axis": {"title": "Duration (months)", "values": [0, 50, 100, 150, 200]}}, "y": {"field": "s", "type": "quantitative", "scale": {"domain": [-0.055, 1.06], "nice": false, "zero": false}, "axis": {"title": "Overall Survival", "values": [0, 0.2, 0.4, 0.6, 0.8, 1]}}},
  "layer": [
   {"data": {"name": "curves"}, "transform": [{"filter": "datum.p == 'C1'"}], "mark": {"type": "line", "interpolate": "step-after"}, "encoding": {"detail": {"field": "g"}, "strokeDash": {"field": "g", "scale": {"domain": ["P03","P45","P68","F78","F36","F02","FpPm","FpPp","FmPm","FmPp"], "range": [[1,0],[1.5,1.5],[4,2.5],[4,3],[1.5,1.5],[1,0],[1,0],[1.5,1.5],[9,3],[3.5,2.5]]}, "legend": null}, "color": {"field": "g", "scale": {"domain": ["P03","P45","P68","F78","F36","F02","FpPm","FpPp","FmPm","FmPp"], "range": ["#1e1e1e","#555555","#333333","#333333","#555555","#1e1e1e","#1e1e1e","#555555","#333333","#333333"]}, "legend": null}, "strokeWidth": {"field": "g", "scale": {"domain": ["P03","P45","P68","F78","F36","F02","FpPm","FpPp","FmPm","FmPp"], "range": [1.5,1.5,1.7,1.5,1.5,1.5,1.5,1.5,1.5,2]}, "legend": null}}},
   {"data": {"name": "censors"}, "transform": [{"filter": "datum.p == 'C1'"}], "mark": {"type": "tick", "orient": "vertical", "size": 5, "thickness": 1, "color": "#333"}},
   {"data": {"name": "notes"}, "transform": [{"filter": "datum.p == 'C1'"}], "mark": {"type": "text", "align": "right", "baseline": "middle", "font": "Lato", "fontSize": 13, "color": "#222"}, "encoding": {"text": {"field": "text"}}},
   {"data": {"name": "pnotes"}, "transform": [{"filter": "datum.p == 'C1'"}], "mark": {"type": "text", "align": "right", "baseline": "middle", "font": "Lato", "fontSize": 13, "fontStyle": "italic", "color": "#222"}, "encoding": {"text": {"field": "text"}}}
  ]},
 {"width": 293, "height": 276,
  "encoding": {"x": {"field": "t", "type": "quantitative", "scale": {"domain": [-10.6, 211.4], "nice": false, "zero": false}, "axis": {"title": "Duration (months)", "values": [0, 50, 100, 150, 200]}}, "y": {"field": "s", "type": "quantitative", "scale": {"domain": [-0.055, 1.06], "nice": false, "zero": false}, "axis": {"title": "Relapse-free Survival", "values": [0, 0.2, 0.4, 0.6, 0.8, 1]}}},
  "layer": [
   {"data": {"name": "curves"}, "transform": [{"filter": "datum.p == 'C2'"}], "mark": {"type": "line", "interpolate": "step-after"}, "encoding": {"detail": {"field": "g"}, "strokeDash": {"field": "g", "scale": {"domain": ["P03","P45","P68","F78","F36","F02","FpPm","FpPp","FmPm","FmPp"], "range": [[1,0],[1.5,1.5],[4,2.5],[4,3],[1.5,1.5],[1,0],[1,0],[1.5,1.5],[9,3],[3.5,2.5]]}, "legend": null}, "color": {"field": "g", "scale": {"domain": ["P03","P45","P68","F78","F36","F02","FpPm","FpPp","FmPm","FmPp"], "range": ["#1e1e1e","#555555","#333333","#333333","#555555","#1e1e1e","#1e1e1e","#555555","#333333","#333333"]}, "legend": null}, "strokeWidth": {"field": "g", "scale": {"domain": ["P03","P45","P68","F78","F36","F02","FpPm","FpPp","FmPm","FmPp"], "range": [1.5,1.5,1.7,1.5,1.5,1.5,1.5,1.5,1.5,2]}, "legend": null}}},
   {"data": {"name": "censors"}, "transform": [{"filter": "datum.p == 'C2'"}], "mark": {"type": "tick", "orient": "vertical", "size": 5, "thickness": 1, "color": "#333"}},
   {"data": {"name": "notes"}, "transform": [{"filter": "datum.p == 'C2'"}], "mark": {"type": "text", "align": "right", "baseline": "middle", "font": "Lato", "fontSize": 13, "color": "#222"}, "encoding": {"text": {"field": "text"}}},
   {"data": {"name": "pnotes"}, "transform": [{"filter": "datum.p == 'C2'"}], "mark": {"type": "text", "align": "right", "baseline": "middle", "font": "Lato", "fontSize": 13, "fontStyle": "italic", "color": "#222"}, "encoding": {"text": {"field": "text"}}}
  ]}
]
}
